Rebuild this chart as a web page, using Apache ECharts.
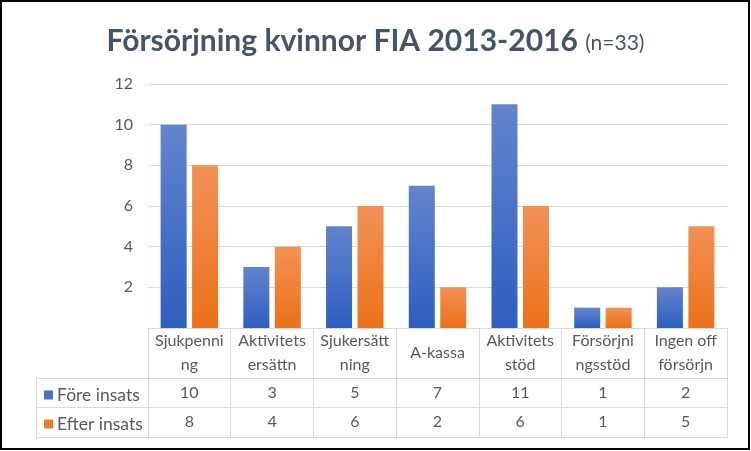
<!DOCTYPE html>
<html><head><meta charset="utf-8">
<script src="https://cdn.jsdelivr.net/npm/echarts@6/dist/echarts.min.js"></script>
<style>html,body{margin:0;padding:0;background:#fff}#c{width:751px;height:451px}</style>
</head><body><div id="c"></div>
<script>
const categories = ['Sjukpenni\nng','Aktivitets\nersättn','Sjukersätt\nning','A-kassa','Aktivitets\nstöd','Försörjni\nngsstöd','Ingen off\nförsörjn'];
const seriesNames = ['Före insats','Efter insats'];
const foreValues = [10,3,5,7,11,1,2];
const efterValues = [8,4,6,2,6,1,5];

const FONT = 'Lato';
const TXT = '#595959';
const LINE = '#D9D9D9';
const chart = echarts.init(document.getElementById('c'), null, {renderer:'canvas'});
const blueGrad = new echarts.graphic.LinearGradient(0,0,0,1,[{offset:0,color:'#6384CD'},{offset:1,color:'#2E5EC0'}]);
const orangeGrad = new echarts.graphic.LinearGradient(0,0,0,1,[{offset:0,color:'#F29157'},{offset:1,color:'#EC7118'}]);

const gridLeft = 148, gridRight = 24, gridTop = 84, gridBottom = 123;
const rowH = [50, 29, 30];

chart.setOption({
  animation:false,
  textStyle:{fontFamily:FONT},
  title:{
    left:'center', top:21,
    text:'{a|Försörjning kvinnor FIA 2013-2016 }{b|(n=33)}',
    textStyle:{rich:{
      a:{fontFamily:FONT,fontSize:30,fontWeight:'bold',color:'#44546A'},
      b:{fontFamily:FONT,fontSize:21,fontWeight:'normal',color:'#44546A',padding:[5,0,0,0]}
    }}
  },
  legend:{
    orient:'vertical', left:39, top:381, itemWidth:9, itemHeight:9, itemGap:11,
    icon:'rect',
    textStyle:{fontFamily:FONT,fontSize:17.5,color:TXT,padding:[0,0,0,-1]},
    data:[{name:seriesNames[0],itemStyle:{color:'#4472C4'}},{name:seriesNames[1],itemStyle:{color:'#ED7D31'}}]
  },
  grid:{left:gridLeft,right:gridRight,top:gridTop,bottom:gridBottom,containLabel:false},
  xAxis:[
    {type:'category',data:categories,position:'bottom',
      axisLine:{show:true,lineStyle:{color:LINE,width:1}},
      axisTick:{show:true,alignWithLabel:false,interval:0,length:rowH[0],lineStyle:{color:LINE}},
      axisLabel:{interval:0,margin:rowH[0]/2,verticalAlign:'middle',lineHeight:24,fontSize:16,color:TXT,fontFamily:FONT}},
    {type:'category',data:categories,position:'bottom',offset:rowH[0],
      axisLine:{show:true,lineStyle:{color:LINE,width:1}},
      axisTick:{show:true,alignWithLabel:false,interval:0,length:rowH[1],lineStyle:{color:LINE}},
      axisLabel:{interval:0,margin:rowH[1]/2,verticalAlign:'middle',fontSize:16,color:TXT,fontFamily:FONT,
        formatter:(v,i)=>String(foreValues[i])}},
    {type:'category',data:categories,position:'bottom',offset:rowH[0]+rowH[1],
      axisLine:{show:true,lineStyle:{color:LINE,width:1}},
      axisTick:{show:true,alignWithLabel:false,interval:0,length:rowH[2],lineStyle:{color:LINE}},
      axisLabel:{interval:0,margin:rowH[2]/2,verticalAlign:'middle',fontSize:16,color:TXT,fontFamily:FONT,
        formatter:(v,i)=>String(efterValues[i])}},
    {type:'category',data:categories,position:'bottom',offset:rowH[0]+rowH[1]+rowH[2],
      axisLine:{show:true,lineStyle:{color:LINE,width:1}},
      axisTick:{show:false},axisLabel:{show:false}}
  ],
  yAxis:{type:'value',min:0,max:12,interval:2,
    axisLine:{show:false},axisTick:{show:false},
    splitLine:{lineStyle:{color:LINE,width:1}},
    axisLabel:{showMinLabel:false,fontSize:16,color:TXT,fontFamily:FONT,margin:15}},
  series:[
    {name:seriesNames[0],type:'bar',xAxisIndex:0,data:foreValues,barWidth:26,barGap:'21%',itemStyle:{color:blueGrad}},
    {name:seriesNames[1],type:'bar',xAxisIndex:0,data:efterValues,barWidth:26,barGap:'21%',itemStyle:{color:orangeGrad}}
  ],
  graphic:[
    {type:'polyline',silent:true,shape:{points:[[gridLeft,451-gridBottom+rowH[0]+0.5],[36.5,451-gridBottom+rowH[0]+0.5],[36.5,451-gridBottom+rowH[0]+rowH[1]+rowH[2]+0.5],[gridLeft,451-gridBottom+rowH[0]+rowH[1]+rowH[2]+0.5]]},style:{stroke:LINE,fill:null,lineWidth:1}},
    {type:'line',silent:true,shape:{x1:36.5,y1:451-gridBottom+rowH[0]+rowH[1]+0.5,x2:gridLeft,y2:451-gridBottom+rowH[0]+rowH[1]+0.5},style:{stroke:LINE,lineWidth:1}},
    {type:'line',silent:true,shape:{x1:gridLeft+0.5,y1:451-gridBottom,x2:gridLeft+0.5,y2:451-gridBottom+rowH[0]},style:{stroke:LINE,lineWidth:1}},
    {type:'rect',silent:true,z:100,shape:{x:1,y:1,width:748,height:448},style:{stroke:'#000',fill:null,lineWidth:2}}
  ]
});
</script></body></html>
